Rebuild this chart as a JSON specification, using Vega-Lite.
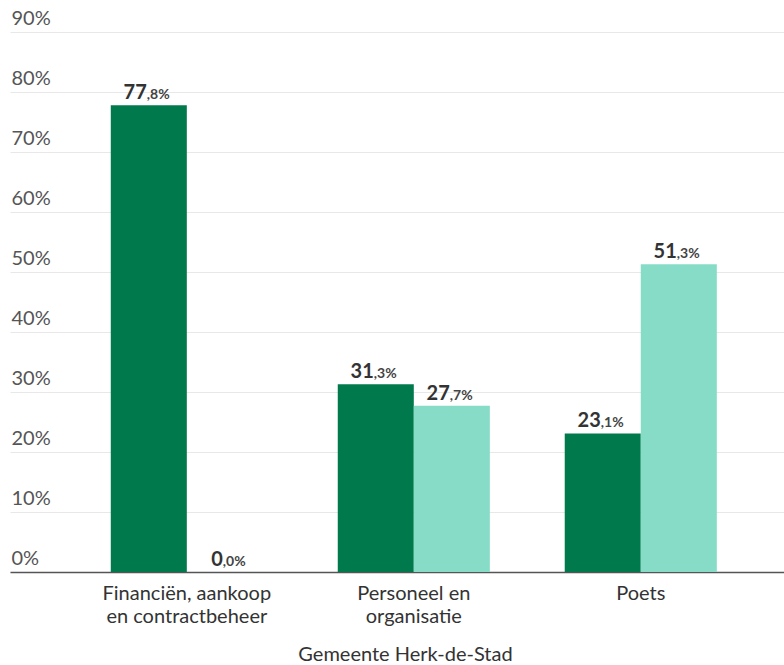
{
  "$schema": "https://vega.github.io/schema/vega-lite/v6.json",
  "width": 774,
  "height": 540,
  "autosize": {"type": "none"},
  "padding": {"left": 10, "top": 32, "right": 0, "bottom": 93},
  "background": "white",
  "config": {
    "view": {"stroke": null},
    "font": "Lato",
    "text": {"font": "Lato"}
  },
  "data": {
    "values": [
      {"afdeling": "Financiën, aankoop|en contractbeheer", "reeks": "reeks 1", "waarde": 77.8},
      {"afdeling": "Financiën, aankoop|en contractbeheer", "reeks": "reeks 2", "waarde": 0.0},
      {"afdeling": "Personeel en|organisatie", "reeks": "reeks 1", "waarde": 31.3},
      {"afdeling": "Personeel en|organisatie", "reeks": "reeks 2", "waarde": 27.7},
      {"afdeling": "Poets", "reeks": "reeks 1", "waarde": 23.1},
      {"afdeling": "Poets", "reeks": "reeks 2", "waarde": 51.3}
    ]
  },
  "transform": [
    {"calculate": "toString(floor(datum.waarde + 0.0001))", "as": "intLabel"},
    {"calculate": "',' + (round(datum.waarde * 10) % 10) + '%'", "as": "decLabel"}
  ],
  "encoding": {
    "x": {
      "field": "afdeling",
      "type": "nominal",
      "sort": null,
      "scale": {"paddingInner": 0.33, "paddingOuter": 0.37, "align": 0.6},
      "axis": {
        "title": "Gemeente Herk-de-Stad",
        "titleFontSize": 20,
        "titleFontWeight": "normal",
        "titleColor": "#333333",
        "titlePadding": 18,
        "titleX": 395,
        "titleAlign": "center",
        "labelAngle": 0,
        "labelFontSize": 20,
        "labelColor": "#333333",
        "labelPadding": 11,
        "labelLineHeight": 23,
        "labelExpr": "split(datum.label, '|')",
        "ticks": false,
        "domainColor": "#555555",
        "domainWidth": 1.5,
        "grid": false
      }
    },
    "xOffset": {
      "field": "reeks",
      "type": "nominal",
      "scale": {"paddingInner": 0, "paddingOuter": 0}
    },
    "y": {
      "field": "waarde",
      "type": "quantitative",
      "scale": {"domain": [0, 90], "nice": false},
      "axis": {
        "title": null,
        "values": [0, 10, 20, 30, 40, 50, 60, 70, 80, 90],
        "labelExpr": "datum.value + '%'",
        "labelAlign": "left",
        "labelBaseline": "bottom",
        "labelPadding": -1,
        "labelOffset": -4,
        "labelFontSize": 20,
        "labelColor": "#555555",
        "labelFlush": false,
        "tickSize": 0,
        "ticks": false,
        "domain": false,
        "grid": true,
        "gridColor": "#e8e8e8",
        "gridWidth": 1
      }
    }
  },
  "layer": [
    {
      "mark": {"type": "bar"},
      "encoding": {
        "color": {
          "field": "reeks",
          "type": "nominal",
          "scale": {"domain": ["reeks 1", "reeks 2"], "range": ["#007a4d", "#86dcc6"]},
          "legend": null
        }
      }
    },
    {
      "mark": {"type": "text", "align": "right", "baseline": "alphabetic", "dy": -6, "dx": -2, "fontSize": 20, "fontWeight": "bold", "color": "#333333"},
      "encoding": {"text": {"field": "intLabel"}}
    },
    {
      "mark": {"type": "text", "align": "left", "baseline": "alphabetic", "dy": -6, "dx": -2, "fontSize": 14, "fontWeight": "bold", "color": "#444444"},
      "encoding": {"text": {"field": "decLabel"}}
    }
  ]
}
